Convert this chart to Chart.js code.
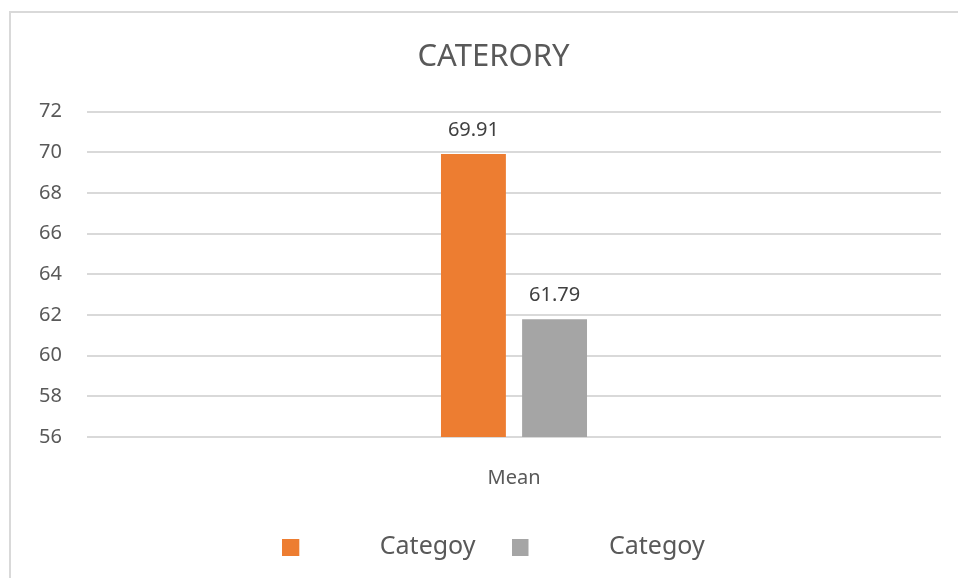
<!DOCTYPE html>
<html>
<head>
<meta charset="utf-8">
<script src="https://cdn.jsdelivr.net/npm/chart.js@4.4.0/dist/chart.umd.min.js"></script>
<style>
    html, body { margin: 0; padding: 0; background: #fff; overflow: hidden; }
    #frame { position: absolute; left: 9px; top: 11px; width: 1000px; height: 1000px;
             border-left: 2px solid #d9d9d9; border-top: 2px solid #d9d9d9; }
    #wrap { position: absolute; left: 0; top: 0; width: 958px; height: 578px; }
</style>
</head>
<body>
<div id="frame"></div>
<div id="wrap"><canvas id="chart"></canvas></div>
<script>
const categories = ['Mean'];
const seriesNames = ['Categoy', 'Categoy'];
const seriesOrange = [69.91];
const seriesGray = [61.79];
const yMin = 56;
const yMax = 72;
const yStep = 2;

const FONT = '"Noto Sans", "Open Sans", sans-serif';
const TEXT = '#595959';

// legend marker: small square on the left of a wide transparent box
function legendMarker(color) {
    const c = document.createElement('canvas');
    c.width = 85;
    c.height = 17;
    const ctx = c.getContext('2d');
    ctx.fillStyle = color;
    ctx.fillRect(0, 0, 17, 17);
    return c;
}

const valueLabels = {
    id: 'valueLabels',
    afterDatasetsDraw(chart) {
        const ctx = chart.ctx;
        ctx.save();
        ctx.font = '20px ' + FONT;
        ctx.fillStyle = '#404040';
        ctx.textAlign = 'center';
        ctx.textBaseline = 'middle';
        chart.data.datasets.forEach((ds, i) => {
            chart.getDatasetMeta(i).data.forEach((bar, j) => {
                ctx.fillText(ds.data[j].toFixed(2), bar.x, bar.y - 24);
            });
        });
        ctx.restore();
    },
};

new Chart(document.getElementById('chart'), {
    type: 'bar',
    data: {
        labels: categories,
        datasets: [{
            label: seriesNames[0],
            data: seriesOrange,
            backgroundColor: '#ED7D31',
            pointStyle: legendMarker('#ED7D31'),
        }, {
            label: seriesNames[1],
            data: seriesGray,
            backgroundColor: '#A5A5A5',
            pointStyle: legendMarker('#A5A5A5'),
        }],
    },
    options: {
        responsive: true,
        maintainAspectRatio: false,
        animation: false,
        categoryPercentage: 0.19,
        barPercentage: 0.8,
        layout: {
            padding: { left: 46, right: 17, top: 0, bottom: 8.5 },
        },
        plugins: {
            title: {
                display: true,
                text: 'CATERORY',
                color: TEXT,
                font: { family: FONT, size: 31, weight: 'normal' },
                padding: { top: 38.4, bottom: 36 },
            },
            legend: {
                position: 'bottom',
                labels: {
                    usePointStyle: true,
                    pointStyleWidth: 85,
                    padding: 36,
                    color: TEXT,
                    font: { family: FONT, size: 25 },
                    generateLabels(chart) {
                        return chart.data.datasets.map((ds, i) => ({
                            text: ds.label,
                            fillStyle: ds.backgroundColor,
                            strokeStyle: ds.backgroundColor,
                            lineWidth: 0,
                            pointStyle: ds.pointStyle,
                            fontColor: TEXT,
                            hidden: false,
                            datasetIndex: i,
                        }));
                    },
                },
            },
            tooltip: { enabled: false },
        },
        scales: {
            x: {
                grid: { display: false, drawTicks: false },
                border: { display: false },
                ticks: {
                    color: TEXT,
                    padding: 29,
                    font: { family: FONT, size: 20 },
                },
                afterFit(scale) { scale.height = 61.5; },
            },
            y: {
                min: yMin,
                max: yMax,
                grid: { color: '#d9d9d9', lineWidth: 2, drawTicks: false },
                border: { display: false },
                ticks: {
                    stepSize: yStep,
                    color: TEXT,
                    mirror: true,
                    padding: -48,
                    font: { family: FONT, size: 20 },
                },
                afterFit(scale) { scale.width = 41; },
            },
        },
    },
    plugins: [valueLabels],
});
</script>
</body>
</html>
